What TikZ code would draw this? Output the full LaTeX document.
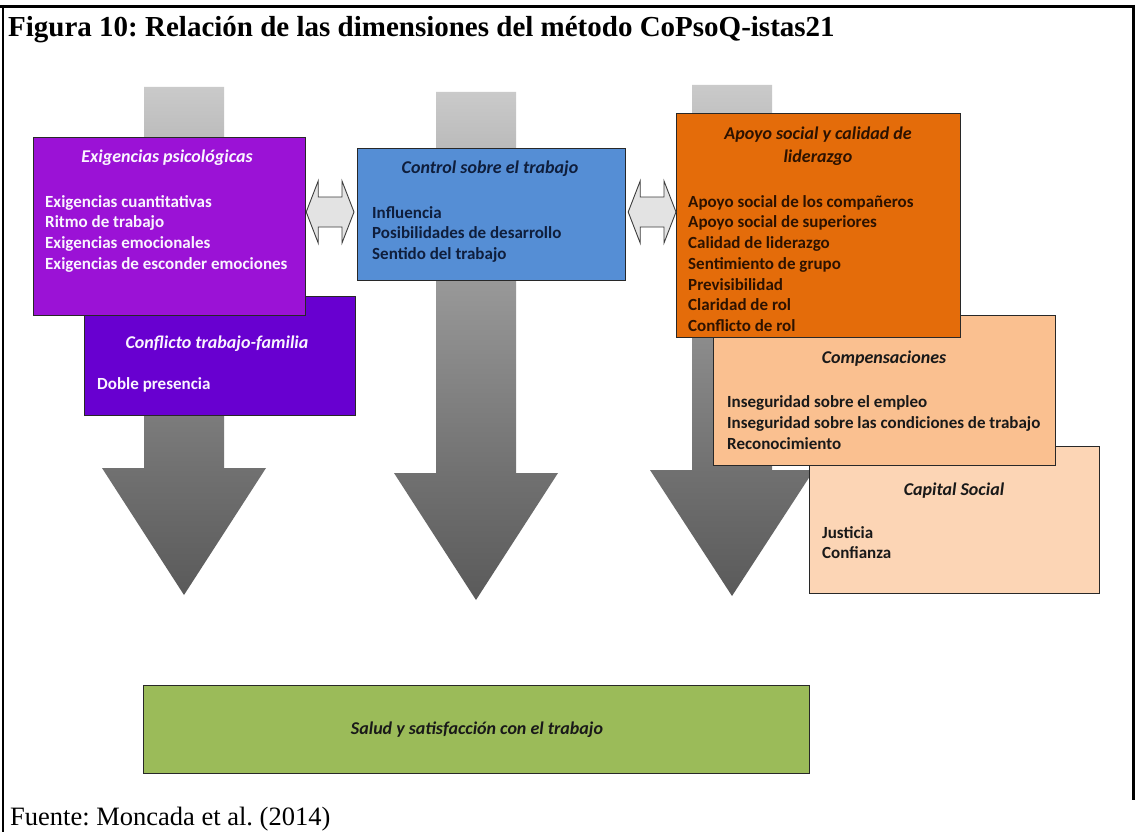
\documentclass[tikz,border=0pt]{standalone}
\usepackage{fontspec}
\setmainfont{Liberation Serif}
\newfontfamily\carlito{Carlito}
\usetikzlibrary{calc}
\frenchspacing

% fills
\definecolor{psicoC}{RGB}{155,18,214}
\definecolor{conflC}{RGB}{104,0,208}
\definecolor{controlC}{RGB}{85,142,213}
\definecolor{apoyoC}{RGB}{228,108,10}
\definecolor{compenC}{RGB}{250,192,144}
\definecolor{capitalC}{RGB}{252,213,181}
\definecolor{saludC}{RGB}{155,187,89}
\definecolor{edgeC}{RGB}{40,40,40}
% text colours
\definecolor{lightT}{RGB}{250,245,255}
\definecolor{navyT}{RGB}{15,30,60}
\definecolor{brownT}{RGB}{45,18,0}
\definecolor{darkT}{RGB}{25,25,25}
% big grey arrows
\definecolor{arrA}{RGB}{90,90,90}
\definecolor{arrB}{RGB}{112,112,112}
\definecolor{arrC}{RGB}{160,160,160}
\definecolor{arrD}{RGB}{202,202,202}
\pgfdeclareverticalshading{downshade}{100bp}{color(0bp)=(arrA); color(25bp)=(arrA);
  color(37bp)=(arrB); color(60bp)=(arrC); color(75bp)=(arrD); color(100bp)=(arrD)}

\tikzset{
  box/.style={draw=edgeC, line width=1.2pt, anchor=north west, inner sep=0},
  ttl/.style={font=\carlito\bfseries\itshape\fontsize{18}{21}\selectfont, inner sep=0, anchor=base},
  itm/.style={font=\carlito\bfseries\fontsize{17}{20.8}\selectfont, inner sep=0, anchor=base west},
  dblarr/.style={draw=edgeC!90, line width=0.9pt, fill=gray!22, line join=miter},
  frameline/.style={line width=2.5pt, black}
}

\begin{document}
\begin{tikzpicture}[x=1pt, y=-1pt]
\useasboundingbox (0,0) rectangle (1135,832);
\fill[white] (0,0) rectangle (1135,832);

% page frame
\draw[frameline] (0,6.5) -- (1135,6.5);
\draw[frameline] (3,5) -- (3,832);
\draw[frameline] (1133.5,5) -- (1133.5,800);

% caption and source
\node[anchor=base west, inner sep=0, font=\bfseries\fontsize{29}{34}\selectfont] (title) at (8,37)
  {Figura 10: Relación de las dimensiones del método CoPsoQ-istas21};
\node[anchor=base west, inner sep=0, font=\fontsize{26.5}{30}\selectfont] (fuente) at (10,825)
  {Fuente: Moncada et al. (2014)};

% three downward arrows behind the boxes
\foreach \cx/\ty/\hy/\py in {184/87/468/595, 476/92/473/600, 732/85/470/596}
  \shade[shading=downshade] (\cx-40,\ty) -- (\cx+40,\ty) -- (\cx+40,\hy) -- (\cx+82,\hy)
     -- (\cx,\py) -- (\cx-82,\hy) -- (\cx-40,\hy) -- cycle;

% dimension boxes (lower ones first so the upper ones overlap them)
\node[box, fill=conflC, minimum width=271, minimum height=119] (confl) at (84,296) {};
\node[box, fill=psicoC, minimum width=272, minimum height=178] (psico) at (33,137) {};
\node[box, fill=controlC, minimum width=268, minimum height=132] (control) at (357,148) {};
\node[box, fill=capitalC, minimum width=290, minimum height=147] (capital) at (809,446) {};
\node[box, fill=compenC, minimum width=342, minimum height=150] (compen) at (713,315) {};
\node[box, fill=apoyoC, minimum width=284, minimum height=224] (apoyo) at (676,113) {};
\node[box, fill=saludC, minimum width=666, minimum height=88] (salud) at (143,685) {};

% two-way arrows between neighbouring boxes
\coordinate (lvl) at (0,212);
\coordinate (pl) at (psico.east |- lvl);
\coordinate (pr) at ($(control.west |- lvl)+(-3,0)$);
\draw[dblarr] (pl) -- ++(12,-31) -- ++(0,16) -- ($(pr)+(-12,-15)$) -- ++(0,-16) -- (pr)
  -- ++(-12,31) -- ++(0,-16) -- ($(pl)+(12,15)$) -- ++(0,16) -- cycle;
\coordinate (ql) at ($(control.east |- lvl)+(2,0)$);
\coordinate (qr) at (apoyo.west |- lvl);
\draw[dblarr] (ql) -- ++(12,-31) -- ++(0,16) -- ($(qr)+(-12,-15)$) -- ++(0,-16) -- (qr)
  -- ++(-12,31) -- ++(0,-16) -- ($(ql)+(12,15)$) -- ++(0,16) -- cycle;

% Exigencias psicológicas
\node[ttl, text=lightT] (psicoT) at (167,162) {Exigencias psicológicas};
\foreach \t [count=\i] in {Exigencias cuantitativas, Ritmo de trabajo,
    Exigencias emocionales, Exigencias de esconder emociones}
  \node[itm, text=lightT] (psico\i) at (45,{207+20.9*(\i-1)}) {\t};

% Conflicto trabajo-familia
\node[ttl, text=lightT] (conflT) at (217,348) {Conflicto trabajo-familia};
\node[itm, text=lightT] (confl1) at (97,389) {Doble presencia};

% Control sobre el trabajo
\node[ttl, text=navyT] (controlT) at (490,173) {Control sobre el trabajo};
\foreach \t [count=\i] in {Influencia, Posibilidades de desarrollo, Sentido del trabajo}
  \node[itm, text=navyT] (control\i) at (372,{218+20.9*(\i-1)}) {\t};

% Apoyo social y calidad de liderazgo
\node[ttl, text=brownT] (apoyoTa) at (818,140) {Apoyo social y calidad de};
\node[ttl, text=brownT] (apoyoTb) at (818,162) {liderazgo};
\foreach \t [count=\i] in {Apoyo social de los compañeros, Apoyo social de superiores,
    Calidad de liderazgo, Sentimiento de grupo, Previsibilidad, Claridad de rol, Conflicto de rol}
  \node[itm, text=brownT] (apoyo\i) at (688,{207+20.75*(\i-1)}) {\t};

% Compensaciones
\node[ttl, text=darkT] (compenT) at (884,363) {Compensaciones};
\foreach \t [count=\i] in {Inseguridad sobre el empleo,
    Inseguridad sobre las condiciones de trabajo, Reconocimiento}
  \node[itm, text=darkT] (compen\i) at (727,{407+21*(\i-1)}) {\t};

% Capital Social
\node[ttl, text=darkT] (capitalT) at (954,495) {Capital Social};
\foreach \t [count=\i] in {Justicia, Confianza}
  \node[itm, text=darkT] (capital\i) at (822,{538+20.5*(\i-1)}) {\t};

% outcome
\node[ttl, text=darkT] (saludT) at (477,734) {Salud y satisfacción con el trabajo};
\end{tikzpicture}
\end{document}
